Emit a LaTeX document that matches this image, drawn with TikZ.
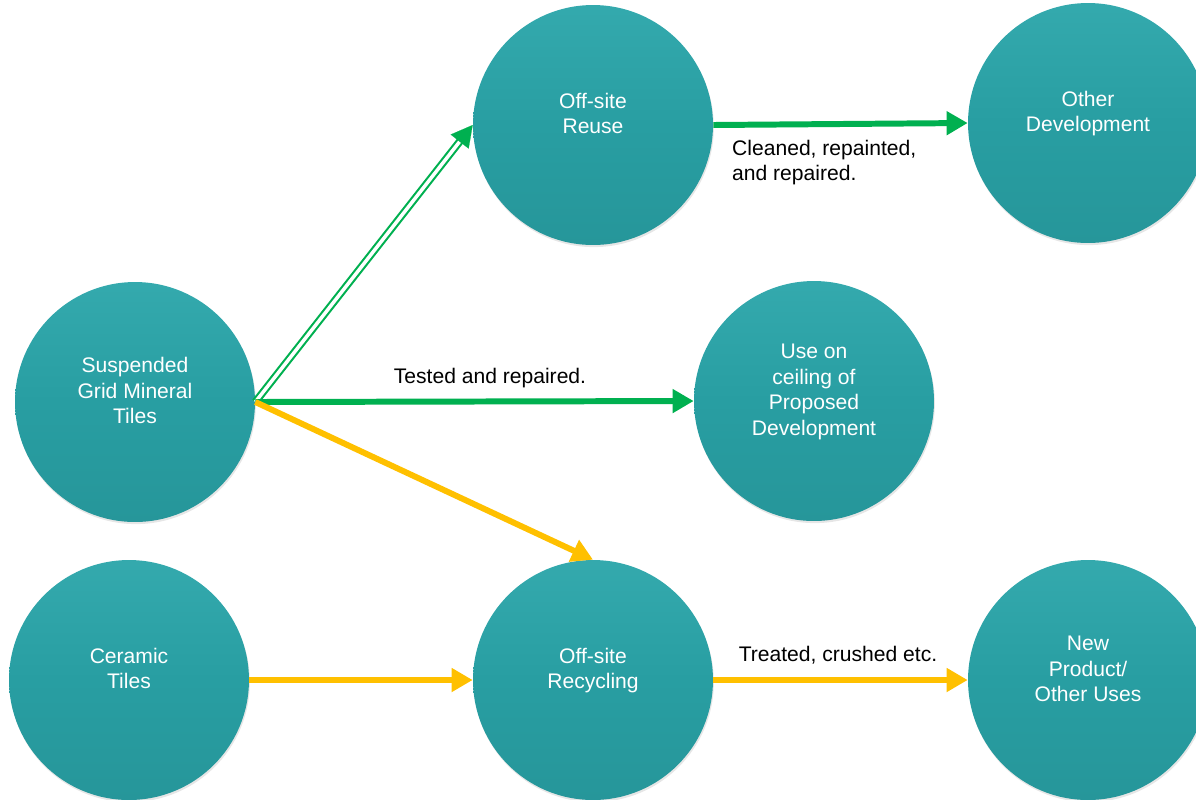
\documentclass[tikz,border=0pt]{standalone}
\usepackage{fontspec}
\setmainfont{Liberation Sans}
\usetikzlibrary{arrows.meta,shadows}

\definecolor{tealball}{RGB}{40,158,162}
\definecolor{tealrim}{RGB}{80,196,200}
\definecolor{flowgreen}{RGB}{0,176,80}
\definecolor{flowyellow}{RGB}{255,192,0}

% stage text sits a little above the centre
\newcommand{\stagetext}[1]{\begin{tabular}{@{}c@{}}#1\\[-4.3pt]\mbox{}\end{tabular}}

\tikzset{
  stage/.style={circle, minimum size=4.8cm, inner sep=0pt,
    text=white, font=\fontsize{12}{14.5}\selectfont,
    top color=tealrim!30!tealball, bottom color=tealball!95!black,
    middle color=tealball,
    drop shadow={shadow xshift=0.5pt, shadow yshift=-1.2pt, opacity=0.2}},
  greenflow/.style={flowgreen, line width=3.4pt, -{Triangle[length=12pt, width=13pt]}},
  yellowflow/.style={flowyellow, line width=3.4pt, -{Triangle[length=12pt, width=13pt]}},
  note/.style={font=\fontsize{12}{14}\selectfont, align=left}
}

\begin{document}
\begin{tikzpicture}[x=0.02cm, y=-0.02cm]
    \useasboundingbox (0,0) rectangle (1196,799);

    % Stages
    \node[stage] (reuse) at (593,125) {\stagetext{Off-site\\Reuse}};
    \node[stage] (other) at (1088,123) {\stagetext{Other\\Development}};
    \node[stage] (susp) at (135,402) {\stagetext{Suspended\\Grid Mineral\\Tiles}};
    \node[stage] (ceiling) at (814,401) {\stagetext{Use on\\ceiling of\\Proposed\\Development}};
    \node[stage] (ceramic) at (129,680) {\stagetext{Ceramic\\Tiles}};
    \node[stage] (recycle) at (593,680) {\stagetext{Off-site\\Recycling}};
    \node[stage] (newprod) at (1088,680) {\stagetext{New\\Product/\\Other Uses}};

    % Reuse route
    \draw[flowgreen, line width=1.2pt, double=white, double distance=2pt, shorten >=8pt] (susp.east) -- (reuse.west);
    \draw[flowgreen, line width=0.1pt, shorten <=190pt, -{Triangle[length=12pt, width=13pt]}] (susp.east) -- (reuse.west);
    \draw[greenflow] (reuse.east) -- (other.west);
    \draw[greenflow] (susp.east) -- (ceiling.west);

    % Recycling route
    \draw[yellowflow] (susp.east) -- (recycle.north);
    \draw[yellowflow] (ceramic.east) -- (recycle.west);
    \draw[yellowflow] (recycle.east) -- (newprod.west);

    % Labels
    \node[note, anchor=north west] (lclean) at (726,134) {Cleaned, repainted,\\and repaired.};
    \node[note] (ltest) at (490,378) {Tested and repaired.};
    \node[note] (ltreat) at (838,655) {Treated, crushed etc.};
\end{tikzpicture}
\end{document}
